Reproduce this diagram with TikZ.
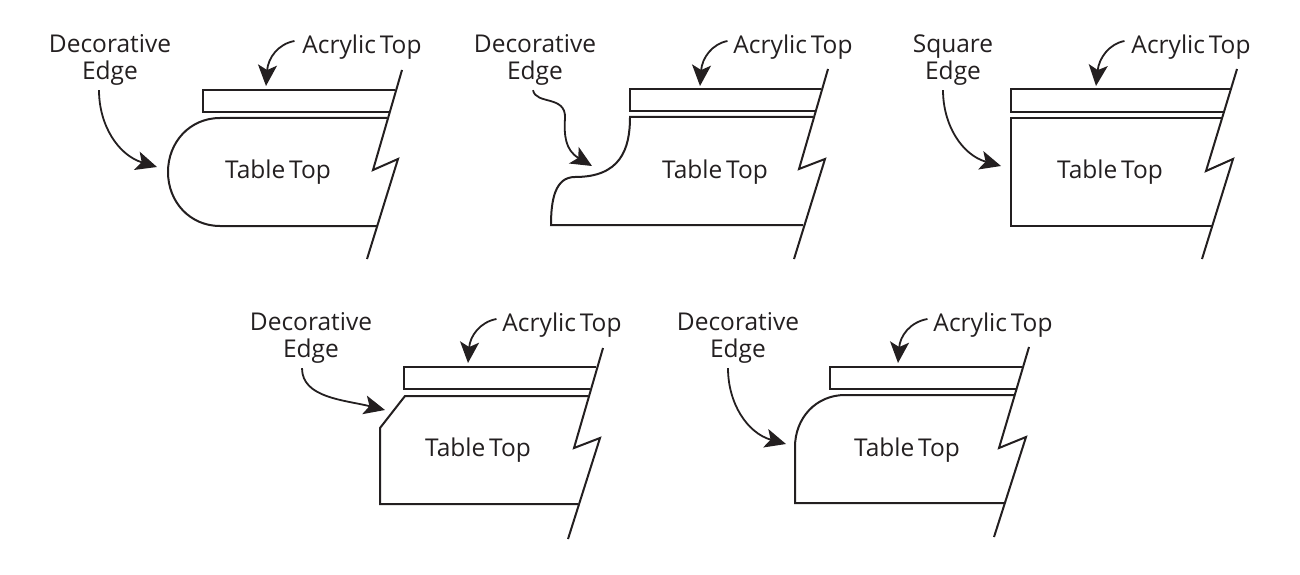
\documentclass[tikz,border=0pt]{standalone}
\usepackage{fontspec}
\setmainfont[WordSpace=0.6]{Open Sans}
\usetikzlibrary{arrows.meta}
\definecolor{inkc}{HTML}{231F20}
\begin{document}
\begin{tikzpicture}[x=1pt, y=-1pt, line width=2pt, color=inkc,
	lbl/.style={align=center, inner sep=0pt, font=\fontsize{24.5}{26.5}\selectfont},
	leader/.style={line width=1.8pt, -{Stealth[length=21pt, width=19pt, inset=5pt]}}]
	\useasboundingbox (0, 0) rectangle (1300, 575);

	% top row, round edge
	\node[lbl] (deco1) at (110, 60) {Decorative\\Edge};
	\node[lbl] (acr1) at (362, 47) {Acrylic Top};
	\node[lbl] (tab1) at (278, 172) {Table Top};
	\coordinate (acrtip1) at (266, 86);
	\coordinate (decotip1) at (157, 167);
	\draw (402, 70) -- (373, 170) -- (398, 159) -- (367, 259);
	\draw (395, 90) -- (203, 90) -- (203, 112) -- (389, 112);
	\draw (387, 118) -- (220, 118) .. controls (190, 118) and (168, 142) .. (168, 172)
		.. controls (168, 202) and (190, 226) .. (220, 226) -- (377, 226);
	\draw[leader] ([xshift=-7pt, yshift=6pt]acr1.west) .. controls (278, 44) and (268, 58) .. (acrtip1);
	\draw[leader] ([xshift=-11pt, yshift=-4pt]deco1.south) .. controls (99, 125) and (118, 155) .. (decotip1);

	% top row, ogee edge
	\node[lbl] (deco2) at (535, 60) {Decorative\\Edge};
	\node[lbl] (acr2) at (793, 47) {Acrylic Top};
	\node[lbl] (tab2) at (715, 172) {Table Top};
	\coordinate (acrtip2) at (700, 86);
	\coordinate (decotip2) at (592, 166);
	\draw (828, 69) -- (799, 169) -- (825, 159) -- (794, 259);
	\draw (821, 89) -- (630, 89) -- (630, 111) -- (815, 111);
	\draw (813, 117) -- (630, 117) .. controls (630, 150) and (620, 177) .. (575, 177)
		.. controls (555, 177) and (551, 200) .. (551, 225) -- (803, 225);
	\draw[leader] ([xshift=-5pt, yshift=6pt]acr2.west) .. controls (712, 44) and (702, 58) .. (acrtip2);
	\draw[leader] ([xshift=-2pt, yshift=-4pt]deco2.south) .. controls (536, 105) and (566, 95) .. (565, 118)
		.. controls (564, 135) and (565, 150) .. (decotip2);

	% top row, square edge
	\node[lbl] (deco3) at (953, 60) {Square\\Edge};
	\node[lbl] (acr3) at (1191, 47) {Acrylic Top};
	\node[lbl] (tab3) at (1110, 172) {Table Top};
	\coordinate (acrtip3) at (1096, 86);
	\coordinate (decotip3) at (1001, 166);
	\draw (1237, 69) -- (1206, 171) -- (1233, 159) -- (1202, 259);
	\draw (1230, 89) -- (1011, 89) -- (1011, 112) -- (1224, 112);
	\draw (1222, 118) -- (1011, 118) -- (1011, 226) -- (1212, 226);
	\draw[leader] ([xshift=-6pt, yshift=6pt]acr3.west) .. controls (1109, 44) and (1099, 58) .. (acrtip3);
	\draw[leader] ([xshift=-10pt, yshift=-4pt]deco3.south) .. controls (943, 125) and (962, 155) .. (decotip3);

	% bottom row, chamfered edge
	\node[lbl] (deco4) at (311, 338) {Decorative\\Edge};
	\node[lbl] (acr4) at (562, 325) {Acrylic Top};
	\node[lbl] (tab4) at (478, 450) {Table Top};
	\coordinate (acrtip4) at (468, 363);
	\coordinate (decotip4) at (385, 410);
	\draw (603, 348) -- (574, 448) -- (600, 438) -- (568, 539);
	\draw (596, 367) -- (404, 367) -- (404, 389) -- (590, 389);
	\draw (588, 396) -- (405, 396) -- (380, 428) -- (380, 504) -- (578, 504);
	\draw[leader] ([xshift=-5pt, yshift=6pt]acr4.west) .. controls (480, 322) and (470, 336) .. (acrtip4);
	\draw[leader] ([xshift=-9pt, yshift=-4pt]deco4.south) .. controls (302, 398) and (345, 400) .. (decotip4);

	% bottom row, rounded corner
	\node[lbl] (deco5) at (738, 338) {Decorative\\Edge};
	\node[lbl] (acr5) at (993, 325) {Acrylic Top};
	\node[lbl] (tab5) at (907, 450) {Table Top};
	\coordinate (acrtip5) at (898, 363);
	\coordinate (decotip5) at (786, 444);
	\draw (1029, 347) -- (999, 448) -- (1026, 437) -- (994, 537);
	\draw (1022, 367) -- (830, 367) -- (830, 389) -- (1016, 389);
	\draw (1014, 395) -- (845, 395) .. controls (816, 395) and (795, 418) .. (795, 447)
		-- (795, 503) -- (1004, 503);
	\draw[leader] ([xshift=-5pt, yshift=6pt]acr5.west) .. controls (910, 322) and (900, 336) .. (acrtip5);
	\draw[leader] ([xshift=-10pt, yshift=-4pt]deco5.south) .. controls (728, 403) and (747, 433) .. (decotip5);
\end{tikzpicture}
\end{document}
